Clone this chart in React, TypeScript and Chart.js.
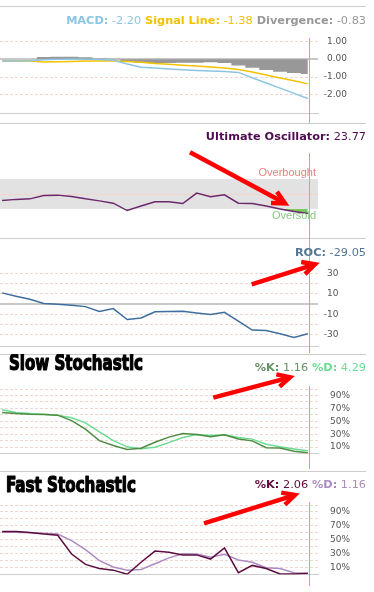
import React, { useEffect, useRef } from "react";
import { Chart, registerables } from "chart.js";

Chart.register(...registerables);

// ---------------- data ----------------
const PERIODS = [0, 1, 2, 3, 4, 5, 6, 7, 8, 9, 10, 11, 12, 13, 14, 15, 16, 17, 18, 19, 20, 21, 22];
const CURSOR_PERIOD = 22.1;

const MACD = [-0.1, -0.1, -0.09, -0.04, 0.0, 0.01, 0.0, -0.02, -0.06, -0.27, -0.45, -0.5, -0.55, -0.59, -0.63, -0.66, -0.69, -0.74, -1.04, -1.33, -1.62, -1.91, -2.2];
const SIGNAL = [-0.1, -0.1, -0.11, -0.16, -0.15, -0.13, -0.1, -0.1, -0.1, -0.13, -0.17, -0.24, -0.29, -0.34, -0.38, -0.44, -0.5, -0.58, -0.72, -0.88, -1.05, -1.21, -1.38];
const DIVERGENCE = [0, 0, 0, 0.12, 0.13, 0.13, 0.1, 0.04, 0.02, -0.1, -0.2, -0.22, -0.21, -0.2, -0.2, -0.18, -0.22, -0.35, -0.48, -0.6, -0.7, -0.78, -0.83];
const ULTIMATE = [41.2, 42.8, 43.5, 48, 48.5, 46.8, 43.5, 40.8, 37.7, 27.8, 34, 39.5, 39.5, 37.2, 51.2, 46.2, 48.9, 37.7, 37.2, 34, 30, 26.4, 23.77];
const ROC = [10.8, 7.5, 4.5, 0.5, -0.3, -1.3, -2.6, -7.4, -4.5, -15.2, -13.6, -7.7, -7.4, -7.2, -8.7, -10.3, -8.1, -16.8, -25.5, -25.9, -29.1, -32.6, -29.05];
const SLOW_K = [63.7, 62, 61, 60.5, 59.5, 51, 38, 20, 12.5, 6.5, 8.3, 17.5, 25.5, 31, 29.5, 26, 29.3, 22.5, 19.7, 9, 8.7, 3.7, 1.16];
const SLOW_D = [68, 63.7, 62, 61, 59.5, 55.5, 47.5, 33.5, 20, 10.5, 7.5, 10, 17, 25, 29.5, 28.2, 29.3, 25, 22.4, 14.5, 10.6, 7.3, 4.29];
const FAST_K = [62, 62, 60.5, 58.2, 56.6, 29.5, 14.7, 8.7, 6.4, 0.5, 17.8, 33.8, 32, 28.3, 28.3, 22.3, 38.4, 2.7, 13.2, 8.7, 1, 1, 2.06];
const FAST_D = [61, 61, 60, 59.5, 58.4, 48.9, 36, 20, 11, 6.4, 7.3, 15.5, 24, 30, 29.5, 25, 29.2, 21, 17.8, 10, 8.7, 2.7, 1.16];

const MACD_GRID = [1, 0, -1, -2];
const UO_OVERBOUGHT = 70;
const UO_MID = 50;
const UO_OVERSOLD = 30;
const ROC_GRID = [30, 20, 10, 0, -10, -20, -30];
const ROC_LABELS = [30, 10, -10, -30];
const STOCH_GRID = [100, 90, 80, 70, 60, 50, 40, 30, 20, 10];
const STOCH_LABELS = [90, 70, 50, 30, 10];

// ---------------- styles ----------------
const W = 374;
const SEP_COLOR = "rgb(204,204,204)";
const GRID_COLOR = "rgb(240,214,208)";
const TICK_COLOR = "#555";
const ORANGE = "rgb(242,162,40)";
const RED = "#ff0000";
const TITLE_FONT = "'DejaVu Sans', Verdana, sans-serif";
const TITLE_SIZE = 11.3;
const MACD_BLUE = "rgb(140,196,226)";
const GOLD = "rgb(244,194,0)";
const DIV_GRAY = "rgb(152,152,152)";
const UO_PURPLE = "rgb(108,40,108)";
const UO_TITLE = "rgb(78,12,78)";
const UO_GREEN = "rgb(122,200,86)";
const ROC_BLUE = "rgb(62,110,158)";
const ROC_TITLE = "rgb(84,118,150)";
const SK_COLOR = "rgb(78,140,66)";
const SD_COLOR = "rgb(108,220,148)";
const SK_TITLE = "rgb(100,146,100)";
const FK_COLOR = "rgb(92,12,62)";
const FD_COLOR = "rgb(172,140,192)";

const X_MIN = -0.15;
const X_MAX = 22.73;

const pts = (arr: number[]) => PERIODS.map((p, i) => ({ x: p, y: arr[i] }));
const fmt = (v: number) => v.toFixed(2);
const last = (arr: number[]) => arr[arr.length - 1];

type Seg = { text: string; color: string; bold?: boolean };

function drawSegments(ctx: any, segs: Seg[], right: number, baseline: number) {
  ctx.save();
  ctx.textBaseline = "alphabetic";
  ctx.textAlign = "left";
  const widths = segs.map((s) => {
    ctx.font = `${s.bold ? "bold " : ""}${TITLE_SIZE}px ${TITLE_FONT}`;
    return ctx.measureText(s.text).width;
  });
  let x = right - widths.reduce((a, b) => a + b, 0);
  segs.forEach((s, i) => {
    ctx.font = `${s.bold ? "bold " : ""}${TITLE_SIZE}px ${TITLE_FONT}`;
    ctx.fillStyle = s.color;
    ctx.fillText(s.text, x, baseline);
    x += widths[i];
  });
  ctx.restore();
}

function drawArrow(ctx: any, tail: number[], tip: number[], offY: number) {
  const x0 = tail[0], y0 = tail[1] - offY, x1 = tip[0], y1 = tip[1] - offY;
  const ang = Math.atan2(y1 - y0, x1 - x0);
  const L = 14, spread = 0.47;
  ctx.save();
  ctx.strokeStyle = RED;
  ctx.lineWidth = 4.5;
  ctx.lineCap = "butt";
  ctx.lineJoin = "miter";
  ctx.beginPath();
  ctx.moveTo(x0, y0);
  ctx.lineTo(x1 - 2 * Math.cos(ang), y1 - 2 * Math.sin(ang));
  ctx.stroke();
  ctx.beginPath();
  ctx.moveTo(x1 - L * Math.cos(ang - spread), y1 - L * Math.sin(ang - spread));
  ctx.lineTo(x1, y1);
  ctx.lineTo(x1 - L * Math.cos(ang + spread), y1 - L * Math.sin(ang + spread));
  ctx.stroke();
  ctx.restore();
}

function drawBigTitle(ctx: any, text: string, x: number, baseline: number, width: number) {
  ctx.save();
  ctx.font = "bold 21px 'Liberation Sans Narrow', 'DejaVu Sans Condensed', 'DejaVu Sans', sans-serif";
  ctx.textBaseline = "alphabetic";
  ctx.textAlign = "left";
  const m = ctx.measureText(text).width;
  ctx.translate(x, baseline);
  ctx.scale(width / m, 1);
  ctx.fillStyle = "#000";
  ctx.strokeStyle = "#000";
  ctx.lineWidth = 1.2;
  ctx.lineJoin = "round";
  ctx.fillText(text, 0, 0);
  ctx.strokeText(text, 0, 0);
  ctx.restore();
}

type PanelCfg = {
  key: string;
  top: number;
  height: number;
  padTop: number;
  padBottom: number;
  padRight: number;
  axisW: number;
  yMin: number;
  yMax: number;
  sepY: number;
  titleBase: number;
  title: Seg[];
  orange: number[];
  zeroLine?: boolean;
  band?: boolean;
  arrow?: { tail: number[]; tip: number[] };
  bigTitle?: { text: string; x: number; baseline: number; width: number };
  grid?: number[];
  labels?: (v: number) => string;
  tickPad?: number;
  tickAlign?: string;
  datasets: any[];
};

const PANELS: PanelCfg[] = [
  {
    key: "macd", top: 0, height: 123, padTop: 38, padBottom: 9, padRight: 27, axisW: 29,
    yMin: -3.04, yMax: 1.18, sepY: 6, titleBase: 24,
    title: [
      { text: "MACD:", color: MACD_BLUE, bold: true },
      { text: " " + fmt(last(MACD)), color: MACD_BLUE },
      { text: " Signal Line:", color: GOLD, bold: true },
      { text: " " + fmt(last(SIGNAL)), color: GOLD },
      { text: " Divergence:", color: DIV_GRAY, bold: true },
      { text: " " + fmt(last(DIVERGENCE)), color: DIV_GRAY },
    ],
    orange: [38, 123], zeroLine: true,
    grid: MACD_GRID, labels: (v) => v.toFixed(2), tickPad: 4, tickAlign: "far",
    datasets: [
      { data: pts(MACD), borderColor: MACD_BLUE, borderWidth: 1.5, fill: false },
      { data: pts(SIGNAL), borderColor: GOLD, borderWidth: 1.5, fill: false },
      { data: pts(DIVERGENCE), borderColor: "rgba(0,0,0,0)", borderWidth: 1, backgroundColor: DIV_GRAY, fill: "origin", stepped: "middle" },
    ],
  },
  {
    key: "uo", top: 123, height: 117, padTop: 30, padBottom: 2, padRight: 0, axisW: 56,
    yMin: -9, yMax: 105, sepY: 0, titleBase: 17,
    title: [
      { text: "Ultimate Oscillator:", color: UO_TITLE, bold: true },
      { text: " " + fmt(last(ULTIMATE)), color: UO_TITLE },
    ],
    orange: [153, 238], band: true,
    arrow: { tail: [190, 152.3], tip: [285, 203.3] },
    datasets: [
      {
        data: pts(ULTIMATE), borderColor: UO_PURPLE, borderWidth: 1.5,
        fill: { target: { value: UO_OVERSOLD }, above: "rgba(0,0,0,0)", below: UO_GREEN },
      },
    ],
  },
  {
    key: "roc", top: 238, height: 118, padTop: 27, padBottom: 10, padRight: 35.5, axisW: 20.5,
    yMin: -41, yMax: 38, sepY: 0, titleBase: 18,
    title: [
      { text: "ROC:", color: ROC_TITLE, bold: true },
      { text: " " + fmt(last(ROC)), color: ROC_TITLE },
    ],
    orange: [238, 353], zeroLine: true,
    arrow: { tail: [251.7, 284.3], tip: [315, 264.3] },
    grid: ROC_GRID, labels: (v) => (ROC_LABELS.includes(v) ? String(v) : ""), tickPad: 4, tickAlign: "far",
    datasets: [{ data: pts(ROC), borderColor: ROC_BLUE, borderWidth: 1.5, fill: false }],
  },
  {
    key: "slow", top: 354, height: 117, padTop: 35, padBottom: 9, padRight: 0, axisW: 56,
    yMin: 0, yMax: 100, sepY: 0, titleBase: 17,
    title: [
      { text: "%K:", color: SK_TITLE, bold: true },
      { text: " " + fmt(last(SLOW_K)), color: SK_TITLE },
      { text: " %D:", color: SD_COLOR, bold: true },
      { text: " " + fmt(last(SLOW_D)), color: SD_COLOR },
    ],
    orange: [386, 469],
    arrow: { tail: [213.3, 397.7], tip: [290, 377.3] },
    bigTitle: { text: "Slow Stochastic", x: 9, baseline: 16, width: 134 },
    grid: STOCH_GRID, labels: (v) => (STOCH_LABELS.includes(v) ? v + "%" : ""), tickPad: 12, tickAlign: "near",
    datasets: [
      { data: pts(SLOW_K), borderColor: SK_COLOR, borderWidth: 1.5, fill: false },
      { data: pts(SLOW_D), borderColor: SD_COLOR, borderWidth: 1.5, fill: false },
    ],
  },
  {
    key: "fast", top: 471, height: 121, padTop: 34, padBottom: 14, padRight: 0, axisW: 56,
    yMin: 0, yMax: 100, sepY: 0, titleBase: 17,
    title: [
      { text: "%K:", color: FK_COLOR, bold: true },
      { text: " " + fmt(last(FAST_K)), color: FK_COLOR },
      { text: " %D:", color: FD_COLOR, bold: true },
      { text: " " + fmt(last(FAST_D)), color: FD_COLOR },
    ],
    orange: [502, 586],
    arrow: { tail: [204, 523.3], tip: [295, 495] },
    bigTitle: { text: "Fast Stochastic", x: 6, baseline: 20.7, width: 130 },
    grid: STOCH_GRID, labels: (v) => (STOCH_LABELS.includes(v) ? v + "%" : ""), tickPad: 12, tickAlign: "near",
    datasets: [
      { data: pts(FAST_K), borderColor: FK_COLOR, borderWidth: 1.5, fill: false },
      { data: pts(FAST_D), borderColor: FD_COLOR, borderWidth: 1.5, fill: false },
    ],
  },
];

function makePlugin(p: PanelCfg) {
  return {
    id: "panel_" + p.key,
    beforeDatasetsDraw(chart: any) {
      const { ctx, chartArea, scales } = chart;
      const y = scales.y;
      ctx.save();
      if (p.band) {
        const yHi = y.getPixelForValue(UO_OVERBOUGHT);
        const yLo = y.getPixelForValue(UO_OVERSOLD);
        ctx.fillStyle = "rgb(226,226,226)";
        ctx.fillRect(chartArea.left, yHi, chartArea.right - chartArea.left, yLo - yHi);
        const yMid = Math.round(y.getPixelForValue(UO_MID)) + 0.5;
        ctx.strokeStyle = "rgb(242,214,204)";
        ctx.lineWidth = 1;
        ctx.beginPath();
        ctx.moveTo(chartArea.left, yMid);
        ctx.lineTo(chartArea.right, yMid);
        ctx.stroke();
      }
      if (p.zeroLine) {
        const y0 = Math.round(y.getPixelForValue(0));
        ctx.fillStyle = "rgb(200,200,200)";
        ctx.fillRect(chartArea.left, y0 - 1, chartArea.right - chartArea.left, 2);
      }
      ctx.restore();
    },
    afterDraw(chart: any) {
      const { ctx, scales } = chart;
      ctx.save();
      ctx.fillStyle = SEP_COLOR;
      ctx.fillRect(0, p.sepY, 366, 1);
      const xo = Math.round(scales.x.getPixelForValue(CURSOR_PERIOD)) + 0.5;
      ctx.strokeStyle = ORANGE;
      ctx.lineWidth = 1;
      ctx.beginPath();
      ctx.moveTo(xo, p.orange[0] - p.top);
      ctx.lineTo(xo, p.orange[1] - p.top);
      ctx.stroke();
      ctx.restore();
      if (p.band) {
        const y = scales.y;
        ctx.save();
        ctx.font = "11px 'Liberation Sans', Arial, sans-serif";
        ctx.textAlign = "right";
        ctx.textBaseline = "alphabetic";
        ctx.fillStyle = "rgb(232,128,128)";
        ctx.fillText("Overbought", 316, y.getPixelForValue(UO_OVERBOUGHT) - 3);
        ctx.fillStyle = "rgb(136,200,128)";
        ctx.fillText("Oversold", 316, y.getPixelForValue(UO_OVERSOLD) + 10.4);
        ctx.restore();
      }
      drawSegments(ctx, p.title, 366, p.titleBase);
      if (p.bigTitle) drawBigTitle(ctx, p.bigTitle.text, p.bigTitle.x, p.bigTitle.baseline, p.bigTitle.width);
      if (p.arrow) drawArrow(ctx, p.arrow.tail, p.arrow.tip, p.top);
    },
  };
}

function makeConfig(p: PanelCfg): any {
  const hasGrid = !!p.grid;
  return {
    type: "line",
    data: { datasets: p.datasets.map((d) => ({ pointRadius: 0, tension: 0, ...d })) },
    options: {
      responsive: false,
      maintainAspectRatio: false,
      animation: false,
      events: [],
      layout: { padding: { top: p.padTop, bottom: p.padBottom, left: 0, right: p.padRight } },
      plugins: { legend: { display: false }, tooltip: { enabled: false }, title: { display: false } },
      scales: {
        x: {
          type: "linear",
          min: X_MIN,
          max: X_MAX,
          grid: { display: false, drawTicks: false },
          ticks: { display: false },
          border: { display: true, color: SEP_COLOR, width: 1 },
          afterFit: (s: any) => { s.height = 0; },
        },
        y: {
          position: "right",
          min: p.yMin,
          max: p.yMax,
          grid: { display: hasGrid, color: GRID_COLOR, lineWidth: 1, drawTicks: false },
          border: { display: false, dash: [3, 2] },
          ticks: {
            display: hasGrid,
            autoSkip: false,
            color: TICK_COLOR,
            font: { family: "'DejaVu Sans', Verdana, sans-serif", size: 9 },
            padding: p.tickPad ?? 6,
            crossAlign: p.tickAlign ?? "near",
            callback: (v: any) => (p.labels ? p.labels(Number(v)) : ""),
          },
          afterBuildTicks: (axis: any) => {
            if (p.grid) axis.ticks = p.grid.map((v) => ({ value: v }));
          },
          afterFit: (s: any) => { s.width = p.axisW; },
        },
      },
    },
    plugins: [makePlugin(p)],
  };
}

export default function App() {
  const refs = useRef<(HTMLCanvasElement | null)[]>([]);
  useEffect(() => {
    const charts = PANELS.map((p, i) => new Chart(refs.current[i] as HTMLCanvasElement, makeConfig(p)));
    return () => charts.forEach((c) => c.destroy());
  }, []);
  return (
    <div style={{ position: "fixed", left: 0, top: 0, width: W, height: 592, background: "#fff", overflow: "hidden" }}>
      {PANELS.map((p, i) => (
        <canvas
          key={p.key}
          ref={(el) => { refs.current[i] = el; }}
          width={W}
          height={p.height}
          style={{ position: "absolute", left: 0, top: p.top, width: W, height: p.height }}
        />
      ))}
    </div>
  );
}
